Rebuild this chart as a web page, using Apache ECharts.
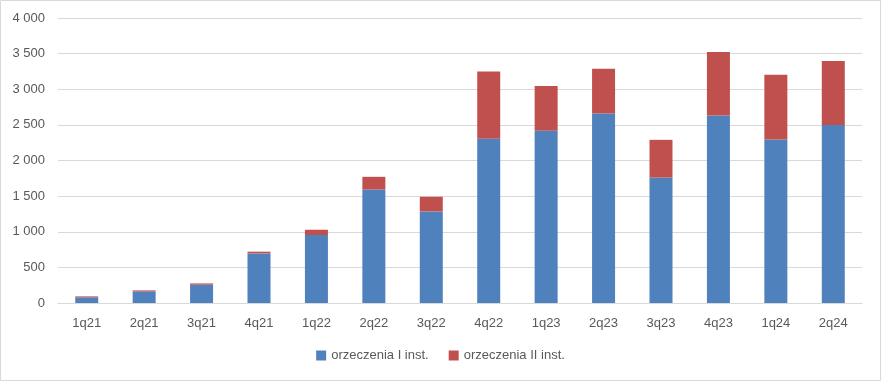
<!DOCTYPE html>
<html><head><meta charset="utf-8">
<script src="https://cdn.jsdelivr.net/npm/echarts@6/dist/echarts.min.js"></script>
<style>html,body{margin:0;padding:0;background:#fff}#c{width:881px;height:381px}</style>
</head><body><div id="c"></div>
<script>
const categories = ['1q21','2q21','3q21','4q21','1q22','2q22','3q22','4q22','1q23','2q23','3q23','4q23','1q24','2q24'];
const firstInstance = [79,163,257,696,954,1593,1285,2304,2416,2659,1761,2631,2295,2500];
const secondInstance = [14,14,18,24,74,178,206,944,631,627,529,893,907,898];
const seriesNames = ['orzeczenia I inst.','orzeczenia II inst.'];
const yTicks = {min:0, max:4000, interval:500};

const chart = echarts.init(document.getElementById('c'), null, {renderer:'canvas'});
const font = 'Liberation Sans, Arial, sans-serif';
chart.setOption({
  animation:false,
  backgroundColor:'#fff',
  graphic:[{type:'rect', shape:{x:0.5,y:0.5,width:880,height:380}, style:{fill:'none', stroke:'#d9d9d9', lineWidth:1}, silent:true}],
  grid:{left:58, right:19, top:18, bottom:78, containLabel:false},
  legend:{
    bottom:14, left:'center', itemWidth:10, itemHeight:10, itemGap:20,
    icon:'rect',
    textStyle:{color:'#595959', fontSize:13, fontFamily:font},
    data:seriesNames
  },
  xAxis:{
    type:'category', data:categories,
    axisLine:{show:true, lineStyle:{color:'#d9d9d9'}},
    axisTick:{show:false},
    axisLabel:{color:'#595959', fontSize:13, fontFamily:font, margin:14}
  },
  yAxis:{
    type:'value', min:yTicks.min, max:yTicks.max, interval:yTicks.interval,
    axisLine:{show:false}, axisTick:{show:false},
    splitLine:{lineStyle:{color:'#d9d9d9'}},
    axisLabel:{color:'#595959', fontSize:13, fontFamily:font, margin:13,
      formatter:v=>String(v).replace(/\B(?=(\d{3})+(?!\d))/g,' ')}
  },
  series:[
    {name:seriesNames[0], type:'bar', stack:'s', data:firstInstance, barWidth:23, itemStyle:{color:'#4F81BD'}},
    {name:seriesNames[1], type:'bar', stack:'s', data:secondInstance, barWidth:23, itemStyle:{color:'#C0504D'}}
  ]
});
</script></body></html>
